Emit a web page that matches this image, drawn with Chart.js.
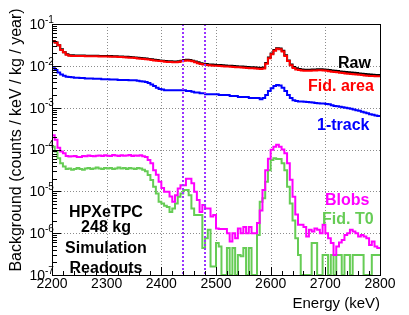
<!DOCTYPE html>
<html lang="en">
<head>
<meta charset="UTF-8">
<title>HPXeTPC background spectra</title>
<script src="https://cdn.jsdelivr.net/npm/chart.js"></script>
<style>
  body { margin: 0; background: #fff; }
</style>
</head>
<body>
<canvas id="bkgChart" width="409" height="315"></canvas>
<script>
// 5 keV bins from 2200 to 2800 keV (120 bins)
const binStart = 2200;
const binWidth = 5;

const raw = [
  0.039, 0.036, 0.031, 0.025, 0.021, 0.019, 0.0180, 0.0178, 0.0177, 0.0177,
  0.0176, 0.0176, 0.0175, 0.0175, 0.0175, 0.0174, 0.0174, 0.0173, 0.0173, 0.0173,
  0.0172, 0.0171, 0.0170, 0.0169, 0.0168, 0.0167, 0.0166, 0.0164, 0.0162, 0.0160,
  0.0158, 0.0155, 0.0153, 0.0151, 0.0149, 0.0146, 0.0143, 0.0140, 0.0137, 0.0135,
  0.0133, 0.0131, 0.0129, 0.0128, 0.0127, 0.0127, 0.0129, 0.0133, 0.0137, 0.0139,
  0.0138, 0.0133, 0.0127, 0.0121, 0.0116, 0.0112, 0.0110, 0.0108, 0.0107, 0.0106,
  0.0105, 0.0104, 0.0103, 0.0102, 0.0101, 0.0100, 0.0099, 0.0098, 0.0097, 0.0096,
  0.0095, 0.0094, 0.0093, 0.0092, 0.0091, 0.0090, 0.0089, 0.0091, 0.0117, 0.0158,
  0.0197, 0.0238, 0.0263, 0.0258, 0.0228, 0.0178, 0.0135, 0.0108, 0.0094, 0.0087,
  0.0084, 0.0082, 0.0081, 0.0081, 0.0081, 0.0082, 0.0082, 0.0083, 0.0083, 0.0082,
  0.0081, 0.0079, 0.0077, 0.0076, 0.0075, 0.0073, 0.0072, 0.0071, 0.0070, 0.0069,
  0.0068, 0.0067, 0.0066, 0.0065, 0.0064, 0.0063, 0.0062, 0.0061, 0.0060, 0.0060
];
const fidArea = [
  0.038, 0.036, 0.031, 0.024, 0.021, 0.0185, 0.0175, 0.0173, 0.0172, 0.0172,
  0.0171, 0.0171, 0.0170, 0.0170, 0.0170, 0.0169, 0.0169, 0.0168, 0.0168, 0.0168,
  0.0167, 0.0166, 0.0165, 0.0164, 0.0163, 0.0162, 0.0161, 0.0159, 0.0157, 0.0155,
  0.0153, 0.0150, 0.0148, 0.0146, 0.0144, 0.0141, 0.0138, 0.0135, 0.0132, 0.0130,
  0.0128, 0.0126, 0.0124, 0.0123, 0.0122, 0.0122, 0.0124, 0.0128, 0.0132, 0.0134,
  0.0133, 0.0128, 0.0122, 0.0116, 0.0111, 0.0107, 0.0105, 0.0103, 0.0102, 0.0101,
  0.0100, 0.0099, 0.0098, 0.0097, 0.0096, 0.0095, 0.0094, 0.0093, 0.0092, 0.0091,
  0.0090, 0.0089, 0.0088, 0.0087, 0.0086, 0.0085, 0.0084, 0.0086, 0.0112, 0.0152,
  0.0190, 0.0230, 0.0255, 0.0250, 0.0220, 0.0172, 0.0130, 0.0103, 0.0089, 0.0082,
  0.0079, 0.0077, 0.0076, 0.0076, 0.0076, 0.0077, 0.0077, 0.0078, 0.0078, 0.0077,
  0.0076, 0.0074, 0.0072, 0.0071, 0.0070, 0.0068, 0.0067, 0.0066, 0.0065, 0.0064,
  0.0063, 0.0062, 0.0061, 0.0060, 0.0059, 0.0058, 0.0057, 0.0057, 0.0056, 0.0056
];
const oneTrack = [
  0.0088, 0.0080, 0.0069, 0.0062, 0.0058, 0.0055, 0.0054, 0.0053, 0.0052, 0.0052,
  0.0051, 0.0051, 0.0050, 0.0050, 0.0050, 0.0049, 0.0049, 0.0049, 0.0048, 0.0048,
  0.0048, 0.0047, 0.0047, 0.0047, 0.0046, 0.0046, 0.0046, 0.0046, 0.0045, 0.0045,
  0.0045, 0.0044, 0.0043, 0.0042, 0.0041, 0.0039, 0.0036, 0.0033, 0.0030, 0.0028,
  0.0027, 0.0026, 0.0026, 0.0026, 0.0026, 0.0026, 0.0026, 0.0026, 0.0026, 0.0025,
  0.0025, 0.0024, 0.0023, 0.0023, 0.0022, 0.0022, 0.0021, 0.0021, 0.0021, 0.0021,
  0.0021, 0.0020, 0.0020, 0.0020, 0.0020, 0.0019, 0.0019, 0.0019, 0.0018, 0.0018,
  0.0018, 0.0018, 0.0017, 0.0017, 0.0017, 0.0017, 0.0016, 0.0017, 0.0020, 0.0025,
  0.0029, 0.0033, 0.0035, 0.0034, 0.0030, 0.0025, 0.0020, 0.0017, 0.0015, 0.00145,
  0.0014, 0.0014, 0.00138, 0.00136, 0.00135, 0.00133, 0.0013, 0.00128, 0.00126, 0.00125,
  0.00122, 0.0012, 0.00115, 0.0011, 0.00108, 0.00105, 0.00102, 0.0010, 0.00097, 0.00094,
  0.0009, 0.00087, 0.00084, 0.0008, 0.00077, 0.00074, 0.0007, 0.00068, 0.00065, 0.00063
];
const blobs = [
  2.2e-4, 1.7e-4, 1.1e-4, 9.0e-5, 8.1e-5, 7.0e-5, 6.8e-5, 6.9e-5, 7.0e-5, 6.6e-5,
  6.6e-5, 7.0e-5, 6.9e-5, 7.2e-5, 7.0e-5, 6.9e-5, 7.1e-5, 7.2e-5, 7.0e-5, 7.3e-5,
  7.1e-5, 7.0e-5, 7.4e-5, 7.2e-5, 7.0e-5, 7.3e-5, 7.1e-5, 7.2e-5, 7.4e-5, 7.0e-5,
  7.2e-5, 7.1e-5, 7.3e-5, 6.9e-5, 6.6e-5, 5.6e-5, 4.7e-5, 3.2e-5, 2.5e-5, 1.7e-5,
  1.2e-5, 9.8e-6, 9.8e-6, 7.5e-6, 5.6e-6, 8.1e-6, 1.17e-5, 1.4e-5, 1.4e-5, 2.0e-5,
  2.0e-5, 1.55e-5, 9.8e-6, 6.2e-6, 3.2e-6, 4.7e-6, 3.9e-6, 3.9e-6, 2.5e-6, 2.7e-6,
  1.3e-6, 1.25e-6, 1.25e-6, 1.25e-6, 1.0e-6, 6.3e-7, 1.0e-6, 7.6e-7, 1.3e-6, 1.0e-6,
  1.4e-6, 1.0e-6, 1.4e-6, 1.0e-6, 1.0e-6, 1.75e-6, 3.5e-6, 1.07e-5, 3.2e-5, 6.0e-5,
  9.8e-5, 1.17e-4, 1.3e-4, 1.17e-4, 1.0e-4, 8.1e-5, 4.7e-5, 1.9e-5, 7.4e-6, 2.8e-6,
  1.6e-6, 1.6e-6, 1.4e-6, 8.3e-7, 1.2e-6, 1.1e-6, 1.3e-6, 1.2e-6, 1.0e-6, 1.6e-6,
  1.0e-6, 7.6e-7, 5.8e-7, 3.0e-7, 4.8e-7, 6.0e-7, 6.9e-7, 9.0e-7, 1.0e-6, 1.2e-6,
  1.1e-6, 1.0e-6, 8.3e-7, 9.0e-7, 8.3e-7, 7.6e-7, 5.2e-7, 6.3e-7, 4.8e-7, 4.4e-7
];
const fidT0 = [
  1.17e-4, 8.9e-5, 6.2e-5, 4.7e-5, 3.9e-5, 3.4e-5, 3.5e-5, 3.3e-5, 3.4e-5, 3.6e-5,
  3.4e-5, 3.3e-5, 3.5e-5, 3.6e-5, 3.4e-5, 3.5e-5, 3.7e-5, 3.5e-5, 3.4e-5, 3.6e-5,
  3.5e-5, 3.6e-5, 3.4e-5, 3.5e-5, 3.7e-5, 3.5e-5, 3.6e-5, 3.4e-5, 3.6e-5, 3.5e-5,
  3.4e-5, 3.6e-5, 3.5e-5, 3.3e-5, 3.0e-5, 2.45e-5, 1.86e-5, 1.29e-5, 8.9e-6, 5.6e-6,
  5.1e-6, 4.5e-6, 4.2e-6, 3.2e-6, 3.9e-6, 5.1e-6, 7.4e-6, 8.9e-6, 1.07e-5, 1.07e-5,
  8.1e-6, 3.9e-6, 2.7e-6, 2.7e-6, 2.7e-6, 4.4e-7, 7.6e-7, 1.2e-6, 1.6e-7, 1.6e-7,
  5.8e-7, 4.8e-7, 0, 0, 4.4e-7, 0, 4.4e-7, 0, 3.0e-7, 2.8e-7,
  4.4e-7, 0, 4.4e-7, 0, 0, 9.0e-7, 5.6e-6, 6.8e-6, 1.7e-5, 3.2e-5,
  5.6e-5, 6.2e-5, 5.9e-5, 5.9e-5, 4.7e-5, 3.2e-5, 1.29e-5, 5.1e-6, 2.0e-6, 7.6e-7,
  3.0e-7, 0, 0, 0, 0, 5.8e-7, 5.8e-7, 0, 0, 3.0e-7,
  3.0e-7, 0, 3.0e-7, 0, 3.0e-7, 3.0e-7, 0, 3.0e-7, 3.0e-7, 0,
  3.0e-7, 3.0e-7, 3.0e-7, 3.0e-7, 0, 0, 0, 3.0e-7, 3.0e-7, 3.0e-7
];

// ROI window around Qbb (dashed purple lines)
const roiEdges = [2439, 2479];
const xTicks = [2200, 2300, 2400, 2500, 2600, 2700, 2800];
const xMinorStep = 20;
const yExponents = [-1, -2, -3, -4, -5, -6, -7];
const yMin = 1e-7, yMax = 1e-1;

const FONT = "'Liberation Sans', Arial, Helvetica, sans-serif";

// histogram -> step points at bin edges (empty bins sit on the axis)
function toSteps(values) {
  const pts = values.map((v, i) => ({ x: binStart + i * binWidth, y: Math.max(v, yMin) }));
  pts.push({ x: binStart + values.length * binWidth, y: Math.max(values[values.length - 1], yMin) });
  return pts;
}

function hist(label, values, color) {
  return { label, data: toSteps(values), borderColor: color, backgroundColor: color,
           borderWidth: 2, stepped: true, pointRadius: 0, fill: false };
}

const labels = [
  { text: 'Raw', color: '#000000', x: 338, y: 68, align: 'left' },
  { text: 'Fid. area', color: '#ff0000', x: 308, y: 91, align: 'left' },
  { text: '1-track', color: '#0000ff', x: 317, y: 130, align: 'left' },
  { text: 'Blobs', color: '#ff00ff', x: 325, y: 205, align: 'left' },
  { text: 'Fid. T0', color: '#66cc55', x: 322, y: 224, align: 'left' },
  { text: 'HPXeTPC', color: '#000000', x: 106, y: 217, align: 'center' },
  { text: '248 kg', color: '#000000', x: 106, y: 232, align: 'center' },
  { text: 'Simulation', color: '#000000', x: 106, y: 253, align: 'center' },
  { text: 'Readouts', color: '#000000', x: 106, y: 273, align: 'center' }
];

const decorations = {
  id: 'decorations',
  beforeDatasetsDraw(chart) {
    const { ctx, chartArea: a, scales: { x, y } } = chart;
    ctx.save();
    ctx.strokeStyle = '#8c8c8c';
    ctx.lineWidth = 1;
    ctx.setLineDash([1, 2]);
    ctx.beginPath();
    xTicks.slice(1, -1).forEach(v => {
      const px = Math.round(x.getPixelForValue(v)) + 0.5;
      ctx.moveTo(px, a.top); ctx.lineTo(px, a.bottom);
    });
    yExponents.slice(1, -1).forEach(n => {
      const py = Math.round(y.getPixelForValue(Math.pow(10, n))) + 0.5;
      ctx.moveTo(a.left, py); ctx.lineTo(a.right, py);
    });
    ctx.stroke();
    ctx.restore();
  },
  afterDatasetsDraw(chart) {
    const { ctx, chartArea: a, scales: { x, y } } = chart;
    ctx.save();

    // ROI lines
    ctx.strokeStyle = '#9933ff';
    ctx.lineWidth = 2;
    ctx.setLineDash([2, 2]);
    roiEdges.forEach(e => {
      const px = Math.round(x.getPixelForValue(e));
      ctx.beginPath(); ctx.moveTo(px, a.top); ctx.lineTo(px, a.bottom); ctx.stroke();
    });
    ctx.setLineDash([]);

    // frame
    ctx.strokeStyle = '#000';
    ctx.lineWidth = 1;
    ctx.strokeRect(Math.round(a.left) + 0.5, Math.round(a.top) + 0.5,
                   Math.round(a.right - a.left), Math.round(a.bottom - a.top));

    // inward tick marks
    ctx.beginPath();
    for (let e = xTicks[0]; e <= xTicks[xTicks.length - 1]; e += xMinorStep) {
      const px = Math.round(x.getPixelForValue(e)) + 0.5;
      const len = xTicks.includes(e) ? 8 : 4;
      ctx.moveTo(px, a.bottom); ctx.lineTo(px, a.bottom - len);
    }
    yExponents.forEach(n => {
      for (let m = 1; m <= 9; m++) {
        const v = m * Math.pow(10, n - 1);
        if (v < yMin || v > yMax) continue;
        const py = Math.round(y.getPixelForValue(v)) + 0.5;
        const len = m === 1 ? 9 : 5;
        ctx.moveTo(a.left, py); ctx.lineTo(a.left + len, py);
      }
    });
    ctx.stroke();

    // y tick labels 10^n
    ctx.fillStyle = '#000';
    yExponents.forEach(n => {
      const py = y.getPixelForValue(Math.pow(10, n));
      ctx.font = '14px ' + FONT;
      ctx.textAlign = 'right';
      ctx.textBaseline = 'middle';
      ctx.fillText('10', 45, py + 1);
      ctx.font = '10px ' + FONT;
      ctx.textAlign = 'left';
      ctx.fillText('-' + Math.abs(n), 45, py - 4);
    });

    // axis titles
    ctx.font = '15px ' + FONT;
    ctx.textAlign = 'right';
    ctx.textBaseline = 'alphabetic';
    ctx.fillText('Energy (keV)', a.right, 308);
    ctx.save();
    ctx.translate(17, 140);
    ctx.rotate(-Math.PI / 2);
    ctx.font = '16px ' + FONT;
    ctx.textAlign = 'center';
    ctx.textBaseline = 'middle';
    ctx.fillText('Background (counts / keV / kg / year)', 0, 0);
    ctx.restore();

    // series and detector labels
    ctx.font = 'bold 16px ' + FONT;
    ctx.textBaseline = 'alphabetic';
    labels.forEach(l => {
      ctx.fillStyle = l.color;
      ctx.textAlign = l.align;
      ctx.fillText(l.text, l.x, l.y);
    });
    ctx.restore();
  }
};

const ctx = document.getElementById('bkgChart').getContext('2d');
new Chart(ctx, {
  type: 'line',
  data: {
    datasets: [
      hist('Fid. area', fidArea, '#ff0000'),
      hist('Raw', raw, '#000000'),
      hist('1-track', oneTrack, '#0000ff'),
      hist('Blobs', blobs, '#ff00ff'),
      hist('Fid. T0', fidT0, '#66cc55')
    ]
  },
  options: {
    responsive: false,
    animation: false,
    layout: { padding: { top: 24, right: 29, left: 0, bottom: 0 } },
    plugins: { legend: { display: false }, tooltip: { enabled: false } },
    scales: {
      x: {
        type: 'linear', min: 2200, max: 2800,
        afterBuildTicks: s => { s.ticks = xTicks.map(v => ({ value: v })); },
        afterFit: s => { s.height = 40; },
        grid: { display: false, drawTicks: false },
        border: { display: false },
        ticks: { color: '#000', font: { family: FONT, size: 14 }, padding: 1,
                 maxRotation: 0, autoSkip: false, callback: v => String(v) }
      },
      y: {
        type: 'logarithmic', min: yMin, max: yMax,
        afterFit: s => { s.width = 52; },
        grid: { display: false, drawTicks: false },
        border: { display: false },
        ticks: { display: false }
      }
    }
  },
  plugins: [decorations]
});
</script>
</body>
</html>
